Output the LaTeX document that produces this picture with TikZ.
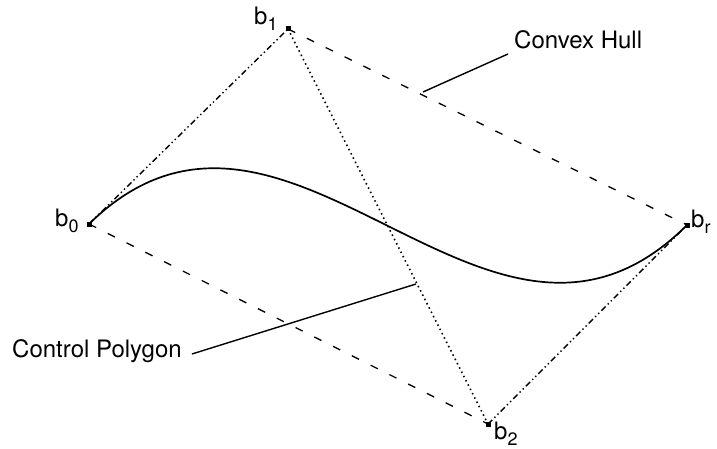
\documentclass[tikz,border=0pt]{standalone}
\usepackage{fontspec}
\setmainfont{TeX Gyre Heros}
\newcommand{\sbs}[1]{\raisebox{-0.25em}{\fontsize{18}{18}\selectfont #1}}
\tikzset{
  x=1pt, y=-1pt,
  ptmark/.style={fill=black, draw=none, minimum size=5pt, inner sep=0pt, rectangle},
  lbl/.style={font=\fontsize{24}{24}\selectfont, inner sep=0pt},
  curveline/.style={line width=1.7pt},
  hull/.style={line width=1.3pt, dash pattern=on 8pt off 13pt},
  polydd/.style={line width=1.4pt, dash pattern=on 6pt off 3pt on 1.4pt off 3pt on 1.4pt off 3pt},
  polydot/.style={line width=1.6pt, dash pattern=on 1.5pt off 3.3pt},
  leader/.style={line width=1.4pt}
}
\begin{document}
\begin{tikzpicture}
\useasboundingbox (0,0) rectangle (717,449);
\coordinate (b0) at (89,224);
\coordinate (b1) at (288,29);
\coordinate (b2) at (488,424);
\coordinate (br) at (687,225);
% convex hull
\draw[hull] (b1) -- (br);
\draw[hull] (b0) -- (b2);
% control polygon
\draw[polydd] (b0) -- (b1);
\draw[polydot] (b1) -- (b2);
\draw[polydd] (b2) -- (br);
% curve
\draw[curveline] (b0) .. controls (b1) and (b2) .. (br);
% point markers
\node[ptmark] (m0) at (b0) {};
\node[ptmark] (m1) at (b1) {};
\node[ptmark] (m2) at (b2) {};
\node[ptmark] (mr) at (br) {};
% labels
\node[lbl, anchor=base west] (l0) at (55,226) {b\sbs{0}};
\node[lbl, anchor=base west] (l1) at (254,25) {b\sbs{1}};
\node[lbl, anchor=base west] (l2) at (494,439) {b\sbs{2}};
\node[lbl, anchor=base west] (lr) at (691,227) {b\sbs{r}};
% annotation texts
\node[lbl, anchor=base west] (hulltxt) at (514,49) {Convex Hull};
\node[lbl, anchor=base west] (polytxt) at (12,357) {Control Polygon};
\coordinate (hullend) at (423,92);
\coordinate (polyend) at (416,284);
\draw[leader] ([xshift=-6pt,yshift=-5pt]hulltxt.base west) -- (hullend);
\draw[leader] ([xshift=10pt,yshift=3pt]polytxt.base east) -- (polyend);
\end{tikzpicture}
\end{document}
